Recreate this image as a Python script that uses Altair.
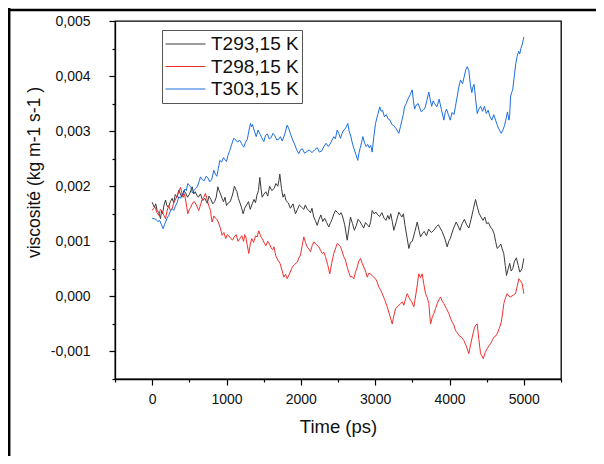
import altair as alt
import pandas as pd

# ---- data: (Time in ps, viscosity in kg m-1 s-1) ----
s_293 = [
    (0, 1.71e-3), (15, 1.66e-3), (30, 1.62e-3), (48, 1.68e-3), (67, 1.56e-3), (90, 1.52e-3), (112, 1.41e-3),
    (126, 1.55e-3), (140, 1.50e-3), (160, 1.66e-3), (180, 1.75e-3), (200, 1.64e-3), (220, 1.62e-3), (245, 1.72e-3),
    (269, 1.78e-3), (290, 1.70e-3), (310, 1.85e-3), (335, 1.80e-3), (358, 1.93e-3), (380, 1.86e-3), (400, 1.80e-3),
    (425, 1.92e-3), (450, 1.88e-3), (475, 1.80e-3), (500, 1.85e-3), (520, 1.92e-3), (538, 1.99e-3), (560, 1.86e-3),
    (580, 1.90e-3), (600, 1.84e-3), (620, 1.80e-3), (650, 1.86e-3), (680, 1.74e-3), (710, 1.78e-3), (740, 1.69e-3),
    (765, 1.82e-3), (790, 1.76e-3), (815, 1.68e-3), (840, 1.72e-3), (862, 1.80e-3), (883, 1.99e-3), (900, 1.92e-3),
    (920, 1.86e-3), (940, 1.78e-3), (960, 1.72e-3), (980, 1.80e-3), (1000, 1.65e-3), (1025, 1.70e-3), (1050, 1.72e-3),
    (1080, 1.84e-3), (1107, 2.00e-3), (1125, 1.94e-3), (1140, 1.90e-3), (1160, 1.78e-3), (1180, 1.70e-3), (1200, 1.62e-3),
    (1224, 1.50e-3), (1245, 1.60e-3), (1270, 1.66e-3), (1295, 1.72e-3), (1320, 1.58e-3), (1345, 1.68e-3), (1370, 1.76e-3),
    (1390, 1.70e-3), (1410, 1.84e-3), (1430, 1.92e-3), (1448, 2.16e-3), (1465, 1.95e-3), (1480, 1.80e-3), (1505, 1.86e-3),
    (1530, 1.90e-3), (1555, 1.82e-3), (1580, 2.00e-3), (1610, 1.92e-3), (1640, 1.96e-3), (1665, 2.05e-3), (1690, 2.00e-3),
    (1705, 2.10e-3), (1717, 2.22e-3), (1740, 1.96e-3), (1760, 1.80e-3), (1780, 1.86e-3), (1800, 1.74e-3), (1830, 1.70e-3),
    (1860, 1.60e-3), (1895, 1.68e-3), (1928, 1.50e-3), (1955, 1.58e-3), (1980, 1.66e-3), (2010, 1.62e-3), (2040, 1.58e-3),
    (2060, 1.66e-3), (2080, 1.60e-3), (2105, 1.56e-3), (2130, 1.52e-3), (2150, 1.60e-3), (2174, 1.44e-3), (2195, 1.38e-3),
    (2220, 1.29e-3), (2245, 1.40e-3), (2270, 1.48e-3), (2295, 1.36e-3), (2320, 1.42e-3), (2348, 1.34e-3), (2376, 1.26e-3),
    (2400, 1.34e-3), (2420, 1.40e-3), (2445, 1.50e-3), (2466, 1.56e-3), (2495, 1.52e-3), (2520, 1.48e-3), (2540, 1.52e-3),
    (2560, 1.46e-3), (2590, 1.30e-3), (2624, 1.02e-3), (2645, 1.22e-3), (2668, 1.44e-3), (2695, 1.32e-3), (2720, 1.20e-3),
    (2745, 1.28e-3), (2770, 1.40e-3), (2795, 1.36e-3), (2820, 1.30e-3), (2845, 1.24e-3), (2870, 1.34e-3), (2895, 1.30e-3),
    (2920, 1.26e-3), (2940, 1.36e-3), (2960, 1.56e-3), (2985, 1.50e-3), (3010, 1.53e-3), (3035, 1.48e-3), (3060, 1.45e-3),
    (3090, 1.52e-3), (3120, 1.42e-3), (3145, 1.38e-3), (3170, 1.47e-3), (3190, 1.40e-3), (3210, 1.50e-3), (3230, 1.36e-3),
    (3251, 1.20e-3), (3285, 1.36e-3), (3318, 1.53e-3), (3340, 1.48e-3), (3360, 1.44e-3), (3380, 1.50e-3), (3400, 1.30e-3),
    (3425, 1.10e-3), (3453, 0.87e-3), (3475, 0.98e-3), (3500, 1.00e-3), (3535, 1.18e-3), (3566, 1.35e-3), (3590, 1.20e-3),
    (3610, 1.08e-3), (3635, 1.14e-3), (3660, 1.18e-3), (3690, 1.10e-3), (3720, 1.22e-3), (3755, 1.16e-3), (3790, 1.20e-3),
    (3820, 1.26e-3), (3850, 1.30e-3), (3875, 1.24e-3), (3900, 1.18e-3), (3935, 1.06e-3), (3969, 0.90e-3), (3990, 1.00e-3),
    (4010, 1.05e-3), (4050, 1.22e-3), (4090, 1.35e-3), (4115, 1.28e-3), (4140, 1.20e-3), (4170, 1.32e-3), (4200, 1.40e-3),
    (4230, 1.30e-3), (4260, 1.24e-3), (4290, 1.40e-3), (4320, 1.58e-3), (4350, 1.76e-3), (4375, 1.62e-3), (4400, 1.50e-3),
    (4425, 1.44e-3), (4450, 1.38e-3), (4475, 1.44e-3), (4500, 1.32e-3), (4525, 1.34e-3), (4550, 1.26e-3), (4575, 1.22e-3),
    (4600, 1.14e-3), (4620, 1.00e-3), (4642, 0.87e-3), (4665, 0.90e-3), (4690, 0.95e-3), (4710, 0.86e-3), (4730, 0.78e-3),
    (4750, 0.56e-3), (4767, 0.38e-3), (4790, 0.50e-3), (4810, 0.60e-3), (4830, 0.46e-3), (4850, 0.50e-3), (4875, 0.64e-3),
    (4900, 0.70e-3), (4925, 0.56e-3), (4946, 0.44e-3), (4975, 0.50e-3), (5000, 0.69e-3),
]

s_298 = [
    (0, 1.56e-3), (20, 1.60e-3), (40, 1.62e-3), (65, 1.52e-3), (89, 1.47e-3), (110, 1.58e-3), (130, 1.55e-3),
    (155, 1.48e-3), (179, 1.41e-3), (200, 1.55e-3), (223, 1.65e-3), (245, 1.56e-3), (270, 1.60e-3), (290, 1.70e-3),
    (310, 1.75e-3), (335, 1.82e-3), (358, 1.90e-3), (381, 1.98e-3), (400, 1.88e-3), (420, 1.80e-3), (435, 1.86e-3),
    (450, 1.75e-3), (465, 1.62e-3), (479, 1.50e-3), (500, 1.58e-3), (520, 1.62e-3), (545, 1.70e-3), (570, 1.72e-3),
    (600, 1.64e-3), (627, 1.56e-3), (650, 1.66e-3), (670, 1.75e-3), (695, 1.80e-3), (717, 1.87e-3), (735, 1.78e-3),
    (750, 1.70e-3), (768, 1.62e-3), (785, 1.56e-3), (797, 1.42e-3), (807, 1.35e-3), (830, 1.46e-3), (850, 1.42e-3),
    (870, 1.40e-3), (890, 1.35e-3), (915, 1.25e-3), (942, 1.11e-3), (965, 1.16e-3), (990, 1.05e-3), (1010, 1.12e-3),
    (1030, 1.10e-3), (1055, 1.06e-3), (1080, 1.02e-3), (1105, 1.08e-3), (1130, 1.12e-3), (1155, 1.00e-3), (1180, 1.05e-3),
    (1205, 1.10e-3), (1230, 1.00e-3), (1245, 1.12e-3), (1260, 1.08e-3), (1280, 0.92e-3), (1300, 0.78e-3), (1320, 0.95e-3),
    (1340, 1.05e-3), (1365, 0.98e-3), (1390, 1.10e-3), (1412, 1.08e-3), (1434, 1.19e-3), (1458, 1.10e-3), (1480, 1.05e-3),
    (1505, 0.98e-3), (1530, 0.92e-3), (1555, 1.00e-3), (1580, 0.95e-3), (1600, 0.88e-3), (1620, 0.85e-3), (1640, 0.90e-3),
    (1660, 0.75e-3), (1690, 0.66e-3), (1720, 0.60e-3), (1745, 0.48e-3), (1771, 0.35e-3), (1795, 0.40e-3), (1816, 0.32e-3),
    (1850, 0.42e-3), (1884, 0.53e-3), (1915, 0.58e-3), (1951, 0.62e-3), (1975, 0.70e-3), (1995, 0.75e-3), (2018, 0.92e-3),
    (2040, 1.08e-3), (2062, 0.98e-3), (2085, 0.90e-3), (2108, 0.86e-3), (2130, 0.81e-3), (2152, 0.92e-3), (2175, 0.99e-3),
    (2208, 0.94e-3), (2242, 0.90e-3), (2265, 0.84e-3), (2287, 0.78e-3), (2310, 0.80e-3), (2332, 0.72e-3), (2360, 0.58e-3),
    (2390, 0.41e-3), (2415, 0.60e-3), (2443, 0.78e-3), (2465, 0.86e-3), (2489, 0.96e-3), (2510, 0.94e-3), (2534, 0.90e-3),
    (2555, 0.82e-3), (2578, 0.72e-3), (2600, 0.66e-3), (2624, 0.53e-3), (2645, 0.44e-3), (2668, 0.35e-3), (2690, 0.36e-3),
    (2713, 0.32e-3), (2735, 0.44e-3), (2758, 0.53e-3), (2780, 0.64e-3), (2803, 0.69e-3), (2825, 0.60e-3), (2847, 0.53e-3),
    (2870, 0.46e-3), (2893, 0.35e-3), (2915, 0.42e-3), (2937, 0.41e-3), (2970, 0.36e-3), (3005, 0.32e-3), (3027, 0.26e-3),
    (3049, 0.17e-3), (3072, 0.12e-3), (3095, 0.05e-3), (3128, -0.06e-3), (3162, -0.19e-3), (3195, -0.34e-3), (3229, -0.50e-3),
    (3250, -0.36e-3), (3274, -0.22e-3), (3308, -0.18e-3), (3341, -0.13e-3), (3365, -0.10e-3), (3386, -0.16e-3), (3410, -0.04e-3),
    (3431, 0.05e-3), (3455, -0.02e-3), (3476, -0.07e-3), (3500, -0.12e-3), (3520, -0.19e-3), (3555, 0.10e-3), (3587, 0.41e-3),
    (3610, 0.34e-3), (3633, 0.41e-3), (3655, 0.22e-3), (3677, 0.05e-3), (3700, -0.02e-3), (3722, -0.13e-3), (3745, -0.50e-3),
    (3768, -0.38e-3), (3789, -0.31e-3), (3812, -0.22e-3), (3835, -0.13e-3), (3858, -0.06e-3), (3879, -0.01e-3), (3900, -0.08e-3),
    (3924, -0.13e-3), (3958, -0.22e-3), (3991, -0.31e-3), (4015, -0.40e-3), (4037, -0.47e-3), (4060, -0.52e-3), (4081, -0.62e-3),
    (4105, -0.66e-3), (4126, -0.71e-3), (4160, -0.74e-3), (4193, -0.80e-3), (4225, -0.90e-3), (4260, -1.04e-3), (4283, -0.88e-3),
    (4306, -0.74e-3), (4337, -0.56e-3), (4355, -0.52e-3), (4373, -0.50e-3), (4395, -0.78e-3), (4418, -1.04e-3), (4436, -1.08e-3),
    (4454, -1.13e-3), (4480, -1.02e-3), (4507, -0.95e-3), (4530, -0.90e-3), (4552, -0.86e-3), (4575, -0.80e-3), (4597, -0.74e-3),
    (4620, -0.72e-3), (4642, -0.68e-3), (4670, -0.58e-3), (4696, -0.47e-3), (4715, -0.30e-3), (4731, -0.13e-3), (4755, -0.02e-3),
    (4777, 0.05e-3), (4800, 0.00e-3), (4821, -0.01e-3), (4855, 0.02e-3), (4888, 0.05e-3), (4910, 0.18e-3), (4933, 0.32e-3),
    (4955, 0.28e-3), (4978, 0.23e-3), (5000, 0.05e-3),
]

s_303 = [
    (0, 1.42e-3), (25, 1.41e-3), (50, 1.40e-3), (75, 1.36e-3), (100, 1.38e-3), (125, 1.30e-3), (148, 1.23e-3),
    (165, 1.30e-3), (180, 1.35e-3), (200, 1.42e-3), (223, 1.47e-3), (245, 1.55e-3), (269, 1.59e-3), (290, 1.56e-3),
    (313, 1.64e-3), (335, 1.70e-3), (358, 1.81e-3), (380, 1.78e-3), (404, 1.87e-3), (420, 1.84e-3), (440, 1.95e-3),
    (460, 1.92e-3), (479, 2.05e-3), (500, 2.02e-3), (520, 1.98e-3), (540, 1.88e-3), (560, 1.92e-3), (585, 1.96e-3),
    (610, 2.00e-3), (630, 2.08e-3), (650, 2.17e-3), (675, 2.12e-3), (700, 2.10e-3), (725, 2.18e-3), (750, 2.15e-3),
    (775, 2.08e-3), (800, 2.12e-3), (815, 2.20e-3), (829, 2.29e-3), (850, 2.22e-3), (870, 2.18e-3), (890, 2.32e-3),
    (910, 2.47e-3), (935, 2.44e-3), (960, 2.52e-3), (980, 2.48e-3), (1000, 2.45e-3), (1020, 2.56e-3), (1044, 2.65e-3),
    (1070, 2.76e-3), (1098, 2.87e-3), (1125, 2.84e-3), (1150, 2.80e-3), (1175, 2.84e-3), (1200, 2.78e-3), (1215, 2.74e-3),
    (1233, 2.71e-3), (1255, 2.80e-3), (1280, 2.85e-3), (1300, 3.00e-3), (1323, 3.14e-3), (1337, 3.08e-3), (1350, 3.12e-3),
    (1375, 3.00e-3), (1400, 2.90e-3), (1425, 3.02e-3), (1450, 2.95e-3), (1475, 2.88e-3), (1502, 2.81e-3), (1525, 2.92e-3),
    (1550, 2.95e-3), (1575, 2.86e-3), (1600, 2.88e-3), (1625, 2.96e-3), (1650, 2.92e-3), (1675, 2.84e-3), (1700, 2.85e-3),
    (1725, 2.90e-3), (1750, 2.82e-3), (1785, 2.95e-3), (1816, 3.11e-3), (1840, 3.04e-3), (1860, 2.95e-3), (1890, 2.84e-3),
    (1920, 2.75e-3), (1945, 2.66e-3), (1972, 2.59e-3), (1995, 2.66e-3), (2020, 2.68e-3), (2050, 2.60e-3), (2080, 2.63e-3),
    (2115, 2.66e-3), (2150, 2.61e-3), (2185, 2.66e-3), (2220, 2.70e-3), (2250, 2.62e-3), (2280, 2.64e-3), (2310, 2.72e-3),
    (2340, 2.78e-3), (2370, 2.72e-3), (2400, 2.78e-3), (2420, 2.84e-3), (2444, 2.90e-3), (2465, 2.86e-3), (2489, 3.02e-3),
    (2510, 2.96e-3), (2534, 2.87e-3), (2555, 2.96e-3), (2578, 3.02e-3), (2605, 3.06e-3), (2632, 3.14e-3), (2650, 3.00e-3),
    (2668, 2.93e-3), (2690, 2.80e-3), (2713, 2.69e-3), (2740, 2.58e-3), (2766, 2.47e-3), (2785, 2.62e-3), (2800, 2.70e-3),
    (2818, 2.80e-3), (2834, 2.90e-3), (2858, 2.78e-3), (2880, 2.72e-3), (2900, 2.76e-3), (2920, 2.70e-3), (2940, 2.74e-3),
    (2960, 2.62e-3), (2982, 2.90e-3), (3005, 3.14e-3), (3035, 3.30e-3), (3062, 3.44e-3), (3080, 3.36e-3), (3100, 3.38e-3),
    (3125, 3.26e-3), (3150, 3.30e-3), (3175, 3.22e-3), (3200, 3.20e-3), (3225, 3.12e-3), (3250, 3.10e-3), (3285, 3.04e-3),
    (3318, 2.96e-3), (3340, 3.08e-3), (3360, 3.20e-3), (3378, 3.30e-3), (3395, 3.44e-3), (3418, 3.50e-3), (3440, 3.58e-3),
    (3470, 3.66e-3), (3498, 3.75e-3), (3515, 3.55e-3), (3530, 3.40e-3), (3555, 3.48e-3), (3580, 3.50e-3), (3600, 3.42e-3),
    (3620, 3.35e-3), (3645, 3.38e-3), (3670, 3.42e-3), (3695, 3.55e-3), (3722, 3.71e-3), (3740, 3.58e-3), (3760, 3.45e-3),
    (3780, 3.55e-3), (3800, 3.50e-3), (3830, 3.44e-3), (3860, 3.58e-3), (3890, 3.40e-3), (3924, 3.20e-3), (3942, 3.34e-3),
    (3960, 3.40e-3), (3985, 3.30e-3), (4010, 3.20e-3), (4035, 3.34e-3), (4060, 3.30e-3), (4080, 3.45e-3), (4100, 3.60e-3),
    (4125, 3.80e-3), (4148, 3.93e-3), (4175, 3.86e-3), (4200, 4.00e-3), (4220, 4.12e-3), (4238, 4.17e-3), (4260, 4.10e-3),
    (4280, 3.85e-3), (4300, 3.70e-3), (4315, 3.80e-3), (4330, 3.85e-3), (4350, 3.60e-3), (4373, 3.32e-3), (4395, 3.40e-3),
    (4420, 3.45e-3), (4445, 3.36e-3), (4470, 3.45e-3), (4495, 3.32e-3), (4520, 3.38e-3), (4545, 3.26e-3), (4570, 3.20e-3),
    (4595, 3.30e-3), (4620, 3.20e-3), (4640, 3.12e-3), (4660, 3.05e-3), (4680, 3.00e-3), (4696, 2.96e-3), (4718, 3.02e-3),
    (4740, 3.10e-3), (4760, 3.22e-3), (4780, 3.35e-3), (4800, 3.20e-3), (4810, 3.30e-3), (4821, 3.62e-3), (4835, 3.70e-3),
    (4850, 3.75e-3), (4870, 3.98e-3), (4892, 4.23e-3), (4910, 4.36e-3), (4930, 4.45e-3), (4945, 4.40e-3), (4960, 4.50e-3),
    (4980, 4.58e-3), (5000, 4.71e-3),
]

series_names = ["T293,15 K", "T298,15 K", "T303,15 K"]
series_colors = ["#3a3a3a", "#f03030", "#1c6ee0"]

x_ticks = [-500, 0, 500, 1000, 1500, 2000, 2500, 3000, 3500, 4000, 4500, 5000, 5500]
y_ticks = [-0.0015, -0.001, -0.0005, 0.0, 0.0005, 0.001, 0.0015, 0.002,
           0.0025, 0.003, 0.0035, 0.004, 0.0045, 0.005]

rows = []
for name, pts in zip(series_names, [s_293, s_298, s_303]):
    for i, (t, v) in enumerate(pts):
        rows.append({"t": t, "v": v, "serie": name, "i": i})
df = pd.DataFrame(rows)

FONT = "Liberation Sans"

y_label = ("abs(round(datum.value*2000)) % 2 == 0 ? "
           "((datum.value < 0 ? '-' : '') + replace(format(abs(datum.value), '.3f'), '.', ',')) : ''")
x_label = "datum.value % 1000 == 0 ? format(datum.value, 'd') : ''"

lines = alt.Chart(df).mark_line(strokeWidth=1).encode(
    x=alt.X("t:Q", scale=alt.Scale(domain=[-500, 5500], nice=False, zero=False),
            axis=alt.Axis(values=x_ticks, labelExpr=x_label, title="Time (ps)",
                          tickSize={"condition": {"test": "datum.value % 1000 == 0", "value": 6}, "value": 3},
                          labelPadding=7, titlePadding=11, labelFlush=False)),
    y=alt.Y("v:Q", scale=alt.Scale(domain=[-0.0015, 0.005], nice=False, zero=False),
            axis=alt.Axis(values=y_ticks, labelExpr=y_label, title="viscosité (kg m-1 s-1 )",
                          tickSize={"condition": {"test": "abs(round(datum.value*2000)) % 2 == 0", "value": 6}, "value": 3},
                          labelPadding=19, titlePadding=7, titleY=151, titleAlign="center",
                          titleFontSize=17.5, labelFlush=False)),
    color=alt.Color("serie:N", scale=alt.Scale(domain=series_names, range=series_colors),
                    legend=alt.Legend(title=None, orient="none", legendX=47, legendY=9,
                                      padding=3, strokeColor="#555555", fillColor="white",
                                      symbolType="stroke", symbolSize=1600, symbolStrokeWidth=1,
                                      labelFontSize=19, labelOffset=5, clipHeight=22,
                                      rowPadding=0.5, labelFont=FONT, labelColor="#111111")),
    order="i:Q",
)

one = pd.DataFrame({"k": [0]})
left_border = alt.Chart(one).mark_rule(color="black", strokeWidth=2.5).encode(
    x=alt.value(-105.8), y=alt.value(-13), y2=alt.value(435))
top_border = alt.Chart(one).mark_rule(color="black", strokeWidth=2.5).encode(
    x=alt.value(-106), x2=alt.value(481), y=alt.value(-11))

chart = alt.layer(lines, left_border, top_border).properties(
    width=446, height=358,
    autosize=alt.AutoSizeParams(type="none"),
    padding={"left": 107, "top": 13, "right": 35, "bottom": 77},
).configure_view(stroke="black", strokeWidth=1.3).configure_axis(
    grid=False, domainColor="black", domainWidth=1.3, tickColor="black", tickWidth=1.2,
    labelFont=FONT, labelFontSize=14, labelColor="#111111",
    titleFont=FONT, titleFontSize=18.5, titleFontWeight="normal", titleColor="#111111",
)

chart.save("out.html", embed_options={"renderer": "svg", "actions": False})
